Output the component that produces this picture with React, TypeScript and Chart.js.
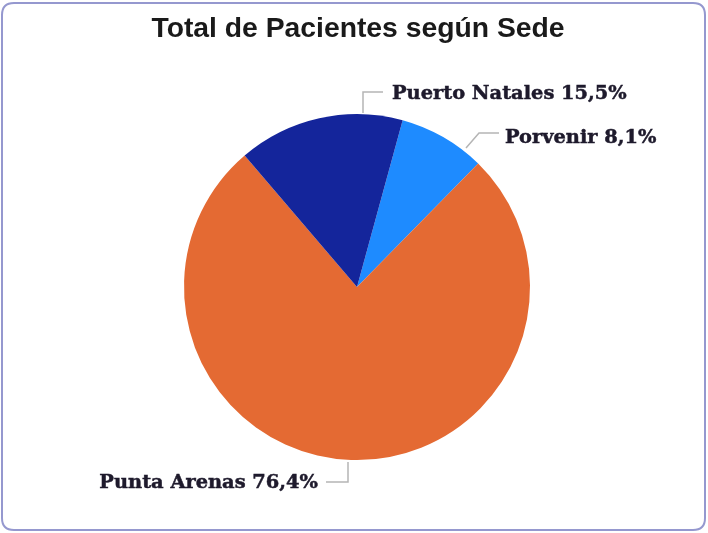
import React, { useEffect, useRef } from "react";
import { Chart, registerables } from "chart.js";
Chart.register(...registerables);

const categories = ["Porvenir", "Punta Arenas", "Puerto Natales"];
const percentages = [8.1, 76.4, 15.5];
const sliceColors = ["#1E8BFF", "#E46A33", "#14259B"];
const titleText = "Total de Pacientes según Sede";

// label layout: leader polyline offsets from pie centre, text baseline anchor offsets
const labelLayout = [
  { line: [[109, -139], [122, -154], [142, -154]], text: [148, -144], align: "left" },
  { line: [[-9, 175], [-9, 195], [-31, 195]], text: [-39, 201], align: "right" },
  { line: [[6, -174], [6, -195], [26, -195]], text: [35, -188], align: "left" },
];

const decorPlugin = {
  id: "decor",
  beforeDraw(chart: any) {
    const ctx = chart.ctx;
    const w = chart.width, h = chart.height;
    ctx.save();
    ctx.fillStyle = "#ffffff";
    ctx.fillRect(0, 0, w, h);
    ctx.strokeStyle = "#9598cf";
    ctx.lineWidth = 2;
    const x = 2, y = 3, rw = w - 5, rh = h - 6, r = 12;
    ctx.beginPath();
    ctx.moveTo(x + r, y);
    ctx.lineTo(x + rw - r, y);
    ctx.quadraticCurveTo(x + rw, y, x + rw, y + r);
    ctx.lineTo(x + rw, y + rh - r);
    ctx.quadraticCurveTo(x + rw, y + rh, x + rw - r, y + rh);
    ctx.lineTo(x + r, y + rh);
    ctx.quadraticCurveTo(x, y + rh, x, y + rh - r);
    ctx.lineTo(x, y + r);
    ctx.quadraticCurveTo(x, y, x + r, y);
    ctx.closePath();
    ctx.stroke();
    ctx.fillStyle = "#1a1a1a";
    ctx.font = "bold 28.3px 'Liberation Sans', Arial, sans-serif";
    ctx.textAlign = "center";
    ctx.textBaseline = "alphabetic";
    ctx.fillText(titleText, 358, 37);
    ctx.restore();
  },
  afterDraw(chart: any) {
    const ctx = chart.ctx;
    const meta = chart.getDatasetMeta(0);
    ctx.save();
    meta.data.forEach((arc: any, i: number) => {
      const cx = arc.x, cy = arc.y;
      const lay = labelLayout[i];
      ctx.strokeStyle = "#b5b5b5";
      ctx.lineWidth = 1.5;
      ctx.beginPath();
      lay.line.forEach((p: number[], k: number) => {
        if (k === 0) ctx.moveTo(cx + p[0], cy + p[1]);
        else ctx.lineTo(cx + p[0], cy + p[1]);
      });
      ctx.stroke();
      const txt = `${categories[i]} ${percentages[i].toFixed(1).replace(".", ",")}%`;
      ctx.fillStyle = "#1e1a2c";
      ctx.strokeStyle = "#1e1a2c";
      ctx.lineWidth = 0.5;
      ctx.font = "bold 19.4px 'DejaVu Serif', 'Liberation Serif', serif";
      ctx.textAlign = lay.align;
      ctx.textBaseline = "alphabetic";
      ctx.fillText(txt, cx + lay.text[0], cy + lay.text[1]);
      ctx.strokeText(txt, cx + lay.text[0], cy + lay.text[1]);
    });
    ctx.restore();
  },
};

export default function App() {
  const ref = useRef<HTMLCanvasElement>(null);
  useEffect(() => {
    document.body.style.margin = "0";
    const chart = new Chart(ref.current!, {
      type: "pie",
      data: {
        labels: categories,
        datasets: [
          {
            data: percentages,
            backgroundColor: sliceColors,
            borderWidth: 0,
          },
        ],
      },
      options: {
        animation: false,
        responsive: false,
        rotation: 15.3,
        layout: { padding: { left: 6, right: 0, top: 114, bottom: 73 } },
        plugins: {
          legend: { display: false },
          tooltip: { enabled: false },
          title: { display: false },
        },
      },
      plugins: [decorPlugin],
    });
    return () => chart.destroy();
  }, []);
  return (
    <div style={{ position: "fixed", left: 0, top: 0, width: 708, height: 533 }}>
      <canvas ref={ref} width={708} height={533} style={{ width: 708, height: 533 }} />
    </div>
  );
}
